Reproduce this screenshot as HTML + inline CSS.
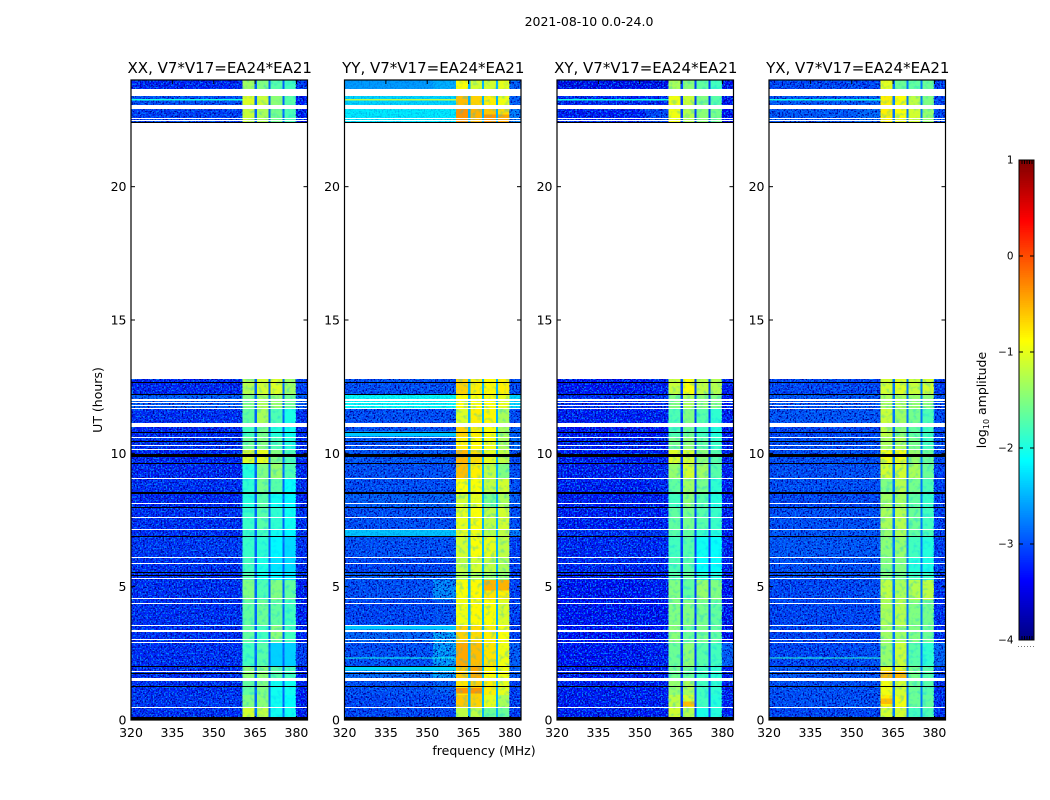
<!DOCTYPE html>
<html lang="en">
<head>
<meta charset="utf-8">
<title>2021-08-10 amplitude waterfall</title>
<style>
html,body{margin:0;padding:0;background:#fff;}
svg{display:block;font-family:"DejaVu Sans","Liberation Sans",sans-serif;fill:#000;}
</style>
</head>
<body>
<svg id="figure" xmlns="http://www.w3.org/2000/svg" width="1050" height="800" viewBox="0 0 1050 800">
  <defs>
    <filter id="speckle-dark" x="0" y="0" width="1" height="1" color-interpolation-filters="sRGB">
      <feTurbulence type="fractalNoise" baseFrequency="0.62" numOctaves="1" seed="4"/>
      <feColorMatrix type="matrix" values="0 0 0 0 0  0 0 0 0 0  0 0 0 0 0.6  6 0 0 0 -2.9"/>
    </filter>
    <filter id="speckle-light" x="0" y="0" width="1" height="1" color-interpolation-filters="sRGB">
      <feTurbulence type="fractalNoise" baseFrequency="0.62" numOctaves="1" seed="11"/>
      <feColorMatrix type="matrix" values="0 0 0 0 0  0 0 0 0 0.5  0 0 0 0 1  0 6 0 0 -3.0"/>
    </filter>
    <filter id="mottle" x="0" y="0" width="1" height="1" color-interpolation-filters="sRGB">
      <feTurbulence type="fractalNoise" baseFrequency="0.22" numOctaves="2" seed="7"/>
      <feColorMatrix type="matrix" values="0 0 0 0 0  0 0 0 0 0.75  0 0 0 0 1  4 0 0 0 -2.0"/>
    </filter>
  </defs>
  <text x="589" y="26" font-size="12.5" text-anchor="middle">2021-08-10 0.0-24.0</text>
  <text x="484" y="755" font-size="12.5" text-anchor="middle">frequency (MHz)</text>
  <text x="102" y="400" font-size="12.5" text-anchor="middle" transform="rotate(-90 102 400)">UT (hours)</text>
  <text x="986" y="400" font-size="12.5" text-anchor="middle" transform="rotate(-90 986 400)">log<tspan font-size="8" dy="3">10</tspan><tspan dy="-3"> amplitude</tspan></text>
  <g id="panels"></g>
  <g id="colorbar"></g>
</svg>
<script>
// ---- Data ----
const panelTitles = ["XX, V7*V17=EA24*EA21", "YY, V7*V17=EA24*EA21", "XY, V7*V17=EA24*EA21", "YX, V7*V17=EA24*EA21"];
const freqTicks = [320, 335, 350, 365, 380];
const timeTicks = [0, 5, 10, 15, 20];
const colorTicks = [1, 0, -1, -2, -3, -4];

// frequency columns in MHz; field: index into a row of the level tables, -1 = gap between spectral windows
const columnStartMHz = [320, 352, 360.4, 364.8, 365.7, 369.8, 370.6, 374.9, 375.6, 379.8];
const columnEndMHz = [352, 360.4, 364.8, 365.7, 369.8, 370.6, 374.9, 375.6, 379.8, 384];
const columnField = [0, 1, 2, -1, 3, -1, 4, -1, 5, 6];

// time rows in UT hours
const rowStartHour = [23.66, 23.06, 22.42, 12.19, 11.66, 11.14, 10.63, 10.15, 9.64, 9.07, 8.51, 7.99, 7.16, 6.90, 6.11, 5.55, 5.25, 4.50, 3.56, 2.92, 2.02, 1.50, 0.94, 0.49, 0];
const rowEndHour = [24.00, 23.40, 22.91, 12.79, 12.19, 11.66, 11.00, 10.63, 10.15, 9.64, 9.07, 8.51, 7.99, 7.16, 6.90, 6.11, 5.55, 5.25, 4.50, 3.56, 2.92, 2.02, 1.50, 0.94, 0.49];

// log10 amplitude per row: [background, shoulder, window A, window B, window C, window D, upper edge]
const levelsXX = [
  [-3.25,-3.25,-1.35,-1.50,-1.70,-1.80,-3.10],
  [-3.00,-3.00,-1.05,-1.15,-1.45,-1.70,-3.30],
  [-3.10,-3.10,-1.15,-1.30,-1.55,-1.75,-3.30],
  [-3.25,-3.25,-1.25,-1.10,-1.05,-1.35,-3.10],
  [-2.90,-2.90,-1.50,-1.30,-1.40,-1.60,-2.90],
  [-3.20,-3.20,-1.65,-1.30,-1.75,-2.00,-3.20],
  [-3.25,-3.25,-1.80,-1.55,-1.95,-2.05,-3.25],
  [-3.20,-3.20,-1.60,-1.50,-1.75,-1.95,-3.20],
  [-3.25,-3.25,-1.05,-1.00,-1.50,-1.75,-3.25],
  [-3.25,-3.25,-1.95,-1.50,-1.40,-1.75,-3.25],
  [-3.20,-3.20,-1.90,-1.55,-1.70,-2.10,-3.20],
  [-3.25,-3.25,-1.95,-1.70,-2.05,-2.15,-3.25],
  [-3.20,-3.20,-1.85,-1.70,-1.90,-2.05,-3.20],
  [-3.20,-3.20,-1.85,-1.80,-2.05,-2.15,-3.20],
  [-3.15,-3.15,-1.85,-1.90,-2.15,-2.30,-3.20],
  [-3.20,-3.20,-1.80,-2.00,-2.25,-2.30,-3.20],
  [-3.20,-3.20,-1.75,-2.05,-2.15,-2.25,-3.20],
  [-3.20,-3.20,-1.50,-1.75,-1.50,-1.65,-3.30],
  [-3.20,-3.20,-1.65,-1.60,-1.65,-1.80,-3.30],
  [-3.20,-3.20,-1.65,-1.80,-1.65,-1.80,-3.30],
  [-3.20,-3.20,-1.80,-1.70,-2.35,-2.35,-3.10],
  [-3.20,-3.20,-1.45,-1.45,-1.70,-1.80,-3.30],
  [-3.20,-3.20,-1.65,-1.50,-2.05,-2.05,-3.30],
  [-3.15,-3.15,-1.50,-1.45,-2.05,-2.10,-3.30],
  [-3.20,-3.20,-1.10,-1.20,-2.05,-2.05,-3.30]
];
const levelsYY = [
  [-2.60,-2.50,-0.90,-1.10,-1.10,-1.00,-2.90],
  [-2.30,-2.30,-0.55,-0.65,-0.80,-0.95,-2.90],
  [-2.20,-2.20,-0.35,-0.50,-0.60,-0.70,-2.70],
  [-3.00,-3.00,-0.65,-0.80,-0.85,-0.80,-3.00],
  [-2.10,-2.10,-0.90,-0.90,-0.90,-1.00,-2.30],
  [-3.00,-3.00,-1.05,-0.80,-0.85,-1.30,-3.00],
  [-3.00,-3.00,-0.65,-0.80,-0.90,-1.30,-2.90],
  [-3.00,-3.00,-0.80,-0.85,-0.95,-1.30,-2.80],
  [-2.95,-2.95,-0.50,-0.70,-1.00,-1.20,-3.00],
  [-3.00,-3.00,-0.55,-0.80,-1.20,-1.50,-3.00],
  [-3.00,-3.00,-0.90,-0.90,-1.20,-1.10,-3.00],
  [-2.90,-2.90,-1.10,-1.00,-1.55,-1.30,-2.90],
  [-3.00,-3.00,-1.00,-0.90,-1.20,-1.10,-3.00],
  [-2.40,-2.40,-1.00,-0.95,-1.25,-1.20,-2.70],
  [-3.00,-3.00,-1.10,-0.90,-1.00,-1.20,-3.10],
  [-3.05,-3.05,-1.20,-1.10,-1.20,-1.30,-3.10],
  [-2.90,-2.90,-1.30,-1.30,-1.40,-1.40,-3.10],
  [-3.00,-2.60,-0.90,-0.85,-0.75,-0.80,-3.10],
  [-3.05,-3.00,-0.95,-0.85,-0.90,-1.05,-3.10],
  [-2.85,-2.45,-0.65,-0.70,-0.80,-0.90,-3.10],
  [-3.00,-2.50,-0.45,-0.55,-0.75,-0.95,-2.90],
  [-2.80,-2.50,-0.60,-0.65,-0.85,-0.95,-2.90],
  [-3.00,-2.90,-0.75,-0.65,-0.80,-1.00,-3.10],
  [-3.05,-3.05,-0.60,-0.65,-1.00,-1.30,-3.10],
  [-3.05,-3.05,-1.20,-1.20,-1.60,-1.60,-3.10]
];
const levelsXY = [
  [-3.45,-3.45,-1.30,-1.45,-1.65,-1.80,-3.40],
  [-3.25,-3.25,-0.95,-1.15,-1.50,-1.70,-3.40],
  [-3.30,-3.05,-0.95,-1.25,-1.45,-1.55,-3.40],
  [-3.35,-3.30,-1.15,-0.90,-1.20,-1.25,-3.30],
  [-3.20,-3.20,-1.50,-1.30,-1.45,-1.50,-3.30],
  [-3.30,-3.30,-1.75,-1.50,-1.70,-1.90,-3.30],
  [-3.35,-3.35,-1.75,-1.60,-1.80,-1.95,-3.35],
  [-3.30,-3.30,-1.55,-1.45,-1.65,-1.85,-3.30],
  [-3.30,-3.30,-1.05,-1.10,-1.45,-1.70,-3.30],
  [-3.30,-3.25,-1.40,-1.10,-1.35,-1.70,-3.30],
  [-3.30,-3.25,-1.65,-1.35,-1.55,-1.90,-3.30],
  [-3.30,-3.30,-1.80,-1.45,-1.70,-1.95,-3.30],
  [-3.30,-3.30,-1.65,-1.55,-1.70,-1.85,-3.30],
  [-3.20,-3.15,-1.70,-1.65,-1.85,-1.95,-3.30],
  [-3.25,-3.25,-1.80,-1.70,-2.05,-2.10,-3.30],
  [-3.25,-3.25,-1.75,-1.70,-2.10,-2.10,-3.30],
  [-3.30,-3.30,-1.70,-1.65,-1.90,-1.95,-3.30],
  [-3.35,-3.30,-1.50,-1.65,-1.40,-1.50,-3.40],
  [-3.35,-3.35,-1.50,-1.50,-1.55,-1.65,-3.40],
  [-3.35,-3.35,-1.45,-1.60,-1.55,-1.65,-3.40],
  [-3.35,-3.30,-1.60,-1.45,-1.70,-1.80,-2.90],
  [-3.30,-3.30,-1.55,-1.60,-1.80,-1.90,-3.30],
  [-3.30,-3.30,-1.40,-1.30,-1.80,-1.90,-3.30],
  [-3.30,-3.30,-1.20,-1.10,-1.80,-1.95,-3.30],
  [-3.30,-3.30,-1.10,-1.25,-2.00,-1.95,-3.30]
];
const levelsYX = [
  [-3.05,-3.05,-1.00,-1.60,-1.65,-1.60,-3.10],
  [-2.95,-2.90,-0.80,-0.90,-1.20,-1.50,-3.05],
  [-2.95,-2.85,-0.80,-0.90,-1.10,-1.40,-3.05],
  [-3.05,-3.05,-1.10,-1.05,-1.15,-1.10,-3.10],
  [-2.95,-2.95,-1.30,-1.30,-1.40,-1.45,-3.00],
  [-2.95,-2.95,-1.15,-1.35,-1.55,-1.75,-3.00],
  [-3.05,-3.05,-1.20,-1.45,-1.65,-1.80,-3.05],
  [-3.00,-3.00,-1.30,-1.30,-1.55,-1.80,-3.00],
  [-3.00,-3.00,-0.95,-0.95,-1.40,-1.60,-3.05],
  [-3.00,-3.00,-1.10,-1.10,-1.30,-1.60,-3.10],
  [-3.00,-3.00,-1.50,-1.25,-1.55,-1.75,-3.10],
  [-3.05,-3.05,-1.35,-1.35,-1.65,-1.85,-3.10],
  [-3.00,-3.00,-1.30,-1.25,-1.60,-1.80,-3.10],
  [-2.95,-2.95,-1.40,-1.30,-1.65,-1.75,-3.10],
  [-2.95,-2.95,-1.45,-1.40,-1.80,-1.95,-3.10],
  [-3.00,-3.00,-1.50,-1.50,-1.95,-2.00,-3.10],
  [-3.00,-3.00,-1.50,-1.55,-1.80,-1.85,-3.10],
  [-3.05,-3.00,-1.20,-1.30,-1.25,-1.20,-3.20],
  [-3.05,-3.05,-1.30,-1.25,-1.50,-1.55,-3.20],
  [-3.05,-3.05,-1.35,-1.35,-1.50,-1.60,-3.20],
  [-3.05,-3.00,-1.40,-1.15,-1.70,-1.90,-2.85],
  [-2.95,-2.95,-1.00,-1.05,-1.55,-1.70,-3.10],
  [-3.00,-3.00,-0.95,-1.10,-1.60,-1.70,-3.20],
  [-3.00,-3.00,-0.80,-0.95,-1.60,-1.65,-3.20],
  [-3.05,-3.05,-1.10,-1.10,-1.80,-1.75,-3.20]
];
const panelLevels = [levelsXX, levelsYY, levelsXY, levelsYX];
const gapLevels = [-2.9, -2.5, -3.1, -2.8];

// narrow features within a window: [panel, column field, start hour, end hour, log10 amplitude]
const patches = [
  [1, 4, 4.85, 5.25, -0.5],
  [1, 5, 4.85, 5.25, -0.5],
  [1, 3, 1.55, 2.0, -0.45],
  [1, 2, 1.0, 1.2, -0.35],
  [1, 3, 1.0, 1.2, -0.35],
  [1, 4, 22.42, 22.7, -0.35],
  [1, 5, 22.42, 22.7, -0.45],
  [3, 2, 1.55, 1.85, -0.5],
  [3, 3, 1.55, 1.85, -0.5],
  [3, 2, 0.6, 0.8, -0.55],
  [2, 3, 0.5, 0.7, -0.55],
  [0, 4, 3.0, 3.55, -1.45]
];

// narrow bright interference bands: [panel, start hour, end hour, log10 amplitude]
const streaks = [
  [0, 23.24, 23.29, -2.0],
  [1, 23.24, 23.29, -1.2],
  [2, 23.24, 23.29, -2.0],
  [3, 23.24, 23.29, -2.0],
  [1, 2.30, 2.35, -2.0],
  [3, 2.30, 2.35, -1.9],
  [1, 10.63, 10.81, -2.4],
  [1, 1.85, 2.02, -2.3],
  [1, 3.39, 3.56, -2.4]
];

// flagged time ranges (UT hours): no data (white) and zero-amplitude (black)
const whiteStartHour = [23.40,22.91,22.53,22.46,12.79,11.98,11.89,11.79,11.67,10.99,10.59,10.29,10.13,9.05,8.12,7.59,7.14,6.09,5.87,5.30,4.52,4.37,3.55,3.31,3.02,2.90,1.82,1.48,0.46];
const whiteEndHour   = [23.66,23.06,22.57,22.50,22.40,12.02,11.93,11.83,11.71,11.14,10.63,10.33,10.18,9.09,8.15,7.63,7.18,6.13,5.90,5.34,4.56,4.40,3.58,3.39,3.05,2.94,1.85,1.56,0.50];
const blackStartHour = [22.38,12.62,12.17,10.77,10.42,9.88,9.61,8.48,7.96,6.88,5.51,5.40,2.00,1.75,1.25,0];
const blackEndHour   = [22.44,12.66,12.21,10.81,10.46,9.96,9.65,8.56,8.00,6.91,5.54,5.43,2.03,1.78,1.29,0.13];

// ---- Layout and scales ----
const NS = "http://www.w3.org/2000/svg";
const plotTop = 80, plotBottom = 720;
const plotLeft = [131, 344.5, 557, 769];
const plotWidth = 176.5;
const freqMin = 320, freqMax = 384, timeMin = 0, timeMax = 24;
const colorMin = -4, colorMax = 1;
const barLeft = 1019, barRight = 1034, barTop = 160, barBottom = 640;

function xScale(panel, mhz) { return plotLeft[panel] + (mhz - freqMin) / (freqMax - freqMin) * plotWidth; }
function yScale(hour) { return plotBottom - (hour - timeMin) / (timeMax - timeMin) * (plotBottom - plotTop); }
function colorY(v) { return barBottom - (v - colorMin) / (colorMax - colorMin) * (barBottom - barTop); }
function clip01(a) { return Math.max(0, Math.min(1, a)); }
function jet(v) {
  const t = clip01((v - colorMin) / (colorMax - colorMin));
  const r = clip01(Math.min(4 * t - 1.5, -4 * t + 4.5));
  const g = clip01(Math.min(4 * t - 0.5, -4 * t + 3.5));
  const b = clip01(Math.min(4 * t + 0.5, -4 * t + 2.5));
  return "rgb(" + Math.round(r * 255) + "," + Math.round(g * 255) + "," + Math.round(b * 255) + ")";
}
function rect(parent, x, y, w, h, fill) {
  const el = document.createElementNS(NS, "rect");
  el.setAttribute("x", x); el.setAttribute("y", y);
  el.setAttribute("width", w); el.setAttribute("height", h);
  el.setAttribute("fill", fill); el.setAttribute("shape-rendering", "crispEdges");
  parent.appendChild(el);
  return el;
}
function flagBand(parent, left, startHour, endHour, fill) {
  const y0 = Math.round(yScale(endHour));
  const h = Math.max(1, Math.round(yScale(startHour)) - y0);
  return rect(parent, left, y0, plotWidth, h, fill);
}
function line(parent, x1, y1, x2, y2, color) {
  const el = document.createElementNS(NS, "line");
  el.setAttribute("x1", x1); el.setAttribute("y1", y1);
  el.setAttribute("x2", x2); el.setAttribute("y2", y2);
  el.setAttribute("stroke", color); el.setAttribute("stroke-width", 1);
  parent.appendChild(el);
  return el;
}
function label(parent, x, y, size, anchor, content) {
  const el = document.createElementNS(NS, "text");
  el.setAttribute("x", x); el.setAttribute("y", y);
  el.setAttribute("font-size", size); el.setAttribute("text-anchor", anchor);
  el.textContent = content;
  parent.appendChild(el);
  return el;
}

// ---- Panels ----
const panelsGroup = document.getElementById("panels");
panelLevels.forEach(function (levels, p) {
  const g = document.createElementNS(NS, "g");
  
  
  panelsGroup.appendChild(g);

  const left = plotLeft[p], right = left + plotWidth;

  const title = label(g, (left + right) / 2 + 0.5, 73, 15, "middle", panelTitles[p]);
  
  

  const cells = document.createElementNS(NS, "g");
  
  
  g.appendChild(cells);
  levels.forEach(function (row, r) {
    columnField.forEach(function (field, c) {
      const value = field < 0 ? gapLevels[p] : row[field];
      const x0 = xScale(p, columnStartMHz[c]), x1 = xScale(p, columnEndMHz[c]);
      const y0 = yScale(rowEndHour[r]), y1 = yScale(rowStartHour[r]);
      const cell = rect(cells, x0, y0, x1 - x0, y1 - y0, jet(value));
      
      
    });
  });

  patches.filter(function (s) { return s[0] === p; }).forEach(function (s) {
    const c = columnField.indexOf(s[1]);
    const x0 = xScale(p, columnStartMHz[c]), x1 = xScale(p, columnEndMHz[c]);
    const patch = rect(cells, x0, yScale(s[3]), x1 - x0, yScale(s[2]) - yScale(s[3]), jet(s[4]));
    
    
  });

  // decorative grain/mottling (texture only, not data); fades where a row is bright
  levels.forEach(function (row, r) {
    [[freqMin, 360.4, row[0]], [379.8, freqMax, row[6]]].forEach(function (span) {
      const y0 = yScale(rowEndHour[r]), y1 = yScale(rowStartHour[r]);
      ["speckle-dark", "speckle-light"].forEach(function (filterId) {
        const tex = rect(g, xScale(p, span[0]), y0, xScale(p, span[1]) - xScale(p, span[0]), y1 - y0, "#000");
        tex.setAttribute("filter", "url(#" + filterId + ")");
        tex.setAttribute("opacity", span[2] > -2.7 ? 0.18 : 1);
        
        
      });
    });
  });
  const mottle = rect(g, xScale(p, 360.4), plotTop, xScale(p, 379.8) - xScale(p, 360.4), plotBottom - plotTop, "#000");
  mottle.setAttribute("filter", "url(#mottle)");
  mottle.setAttribute("opacity", 0.3);
  
  

  streaks.filter(function (s) { return s[0] === p; }).forEach(function (s) {
    const st = rect(g, xScale(p, freqMin), yScale(s[2]), xScale(p, 360.4) - xScale(p, freqMin), Math.max(1, yScale(s[1]) - yScale(s[2])), jet(s[3]));
    
    
  });

  whiteStartHour.forEach(function (h, i) {
    const f = flagBand(g, left, h, whiteEndHour[i], "#fff");
    
    
  });
  blackStartHour.forEach(function (h, i) {
    const f = flagBand(g, left, h, blackEndHour[i], "#000");
    
    
  });

  const frame = document.createElementNS(NS, "rect");
  frame.setAttribute("x", left); frame.setAttribute("y", plotTop);
  frame.setAttribute("width", plotWidth); frame.setAttribute("height", plotBottom - plotTop);
  frame.setAttribute("fill", "none"); frame.setAttribute("stroke", "#000"); frame.setAttribute("stroke-width", 1.2);
  
  
  g.appendChild(frame);

  freqTicks.forEach(function (f) {
    const x = xScale(p, f);
    const t1 = line(g, x, plotBottom, x, plotBottom - 4, "#000");
    
    
    const t2 = line(g, x, plotTop, x, plotTop + 4, "#000");
    
    
    const tl = label(g, x, 737, 12.5, "middle", String(f));
    
    
  });
  timeTicks.forEach(function (h) {
    const y = yScale(h);
    const t1 = line(g, left, y, left + 4, y, "#000");
    
    
    const t2 = line(g, right, y, right - 4, y, "#000");
    
    
    const tl = label(g, left - 4.5, y + 4.5, 12.5, "end", String(h));
    
    
  });
});

// ---- Colorbar ----
const barGroup = document.getElementById("colorbar");
for (let i = 0; i < 256; i++) {
  const v0 = colorMin + (colorMax - colorMin) * i / 256;
  const v1 = colorMin + (colorMax - colorMin) * (i + 1) / 256;
  const band = rect(barGroup, barLeft, colorY(v1), barRight - barLeft, colorY(v0) - colorY(v1) + 0.5, jet((v0 + v1) / 2));
  
  
}
const barFrame = document.createElementNS(NS, "rect");
barFrame.setAttribute("x", barLeft); barFrame.setAttribute("y", barTop);
barFrame.setAttribute("width", barRight - barLeft); barFrame.setAttribute("height", barBottom - barTop);
barFrame.setAttribute("fill", "none"); barFrame.setAttribute("stroke", "#000"); barFrame.setAttribute("stroke-width", 1);


barGroup.appendChild(barFrame);

colorTicks.forEach(function (v) {
  const y = colorY(v);
  if (v < colorMax && v > colorMin) {
    const t1 = line(barGroup, barLeft, y, barLeft + 4, y, "#000");
    
    
    const t2 = line(barGroup, barRight, y, barRight - 4, y, "#000");
    
    
  }
  const text = v < 0 ? "\u2212" + Math.abs(v) : String(v);
  const tl = label(barGroup, 1013.5, y + 3.5, 10.4, "end", text);
  
  
});

for (let k = 0; k < 5; k++) {
  const x = barLeft + 3 + k * 2.5;
  const top = line(barGroup, x, barTop, x, barTop + 4, "#000");
  
  
  const bottom = line(barGroup, x, barBottom, x, barBottom - 4, "#000");
  
  
}
const dots = line(barGroup, barLeft - 1, 646.5, barRight + 1, 646.5, "#777");
dots.setAttribute("stroke-dasharray", "1 2");


</script>
</body>
</html>
